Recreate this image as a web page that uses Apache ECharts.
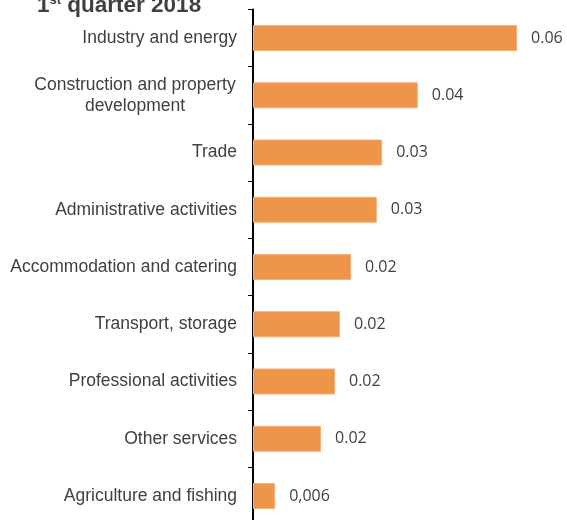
<!DOCTYPE html>
<html>
<head>
<meta charset="utf-8">
<script src="https://cdn.jsdelivr.net/npm/echarts@6/dist/echarts.min.js"></script>
<style>
html,body{margin:0;padding:0;background:#fff;}
#chart{width:567px;height:520px;}
</style>
</head>
<body>
<div id="chart"></div>
<script>
var categories = [
  "Industry and energy",
  "Construction and property\ndevelopment",
  "Trade",
  "Administrative activities",
  "Accommodation and catering",
  "Transport, storage",
  "Professional activities",
  "Other services",
  "Agriculture and fishing"
];
var values = [0.0644, 0.0402, 0.0315, 0.0302, 0.0239, 0.0212, 0.0200, 0.0166, 0.0054];
var valueLabels = ["0.06", "0.04", "0.03", "0.03", "0.02", "0.02", "0.02", "0.02", "0,006"];

var chart = echarts.init(document.getElementById('chart'), null, {renderer: 'canvas'});
chart.setOption({
  animation: false,
  backgroundColor: '#ffffff',
  title: {
    text: '{a|1}{b|st}{a| quarter 2018}',
    left: 32,
    top: -11,
    textStyle: {
      rich: {
        a: {fontFamily: 'Liberation Sans', fontWeight: 'bold', fontSize: 22.5, color: '#404040', lineHeight: 23},
        b: {fontFamily: 'Liberation Sans', fontWeight: 'bold', fontSize: 13, color: '#404040', lineHeight: 23, verticalAlign: 'top', padding: [0,0,8,0]}
      }
    }
  },
  grid: {left: 253, right: 27, top: 9.4, height: 515.2, containLabel: false, outerBoundsMode: 'none'},
  xAxis: {
    type: 'value', min: 0, max: 0.07, show: false
  },
  yAxis: {
    type: 'category',
    data: categories,
    inverse: true,
    axisLine: {show: true, lineStyle: {color: '#000000', width: 2}},
    axisTick: {show: true, length: 5, lineStyle: {color: '#000000', width: 1}},
    splitLine: {show: false},
    axisLabel: {
      margin: 16,
      color: '#404040',
      fontFamily: 'Liberation Sans',
      fontSize: 17.5,
      lineHeight: 21,
      formatter: function (v) {
        if (v.indexOf('\n') >= 0) {
          return v.split('\n').map(function (s) { return '{c|' + s + '}'; }).join('\n');
        }
        return v;
      },
      rich: {
        c: {width: 204, align: 'center', fontFamily: 'Liberation Sans', fontSize: 17.5, color: '#404040', lineHeight: 21}
      }
    }
  },
  series: [{
    type: 'bar',
    data: values,
    barWidth: 26,
    itemStyle: {color: '#EE954A', borderColor: '#F3B07C', borderWidth: 1},
    label: {
      show: true,
      position: 'right',
      distance: 14,
      color: '#404040',
      fontFamily: 'Open Sans',
      fontSize: 16,
      formatter: function (p) { return valueLabels[p.dataIndex]; }
    }
  }]
});
</script>
</body>
</html>
